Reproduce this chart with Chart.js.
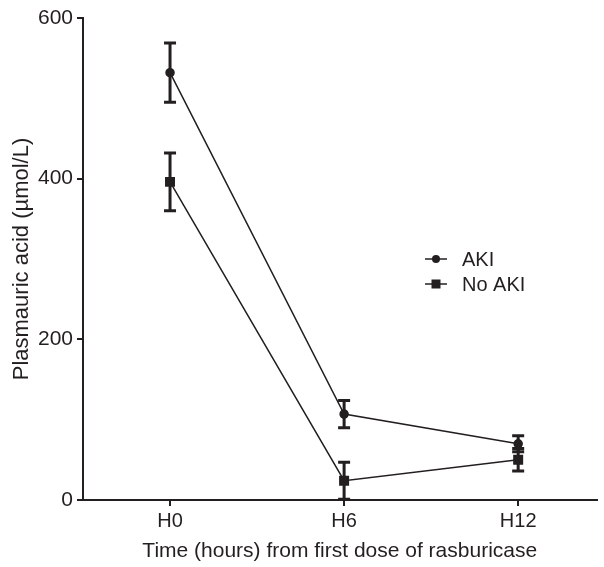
<!DOCTYPE html>
<html>
<head>
<meta charset="utf-8">
<script src="https://cdn.jsdelivr.net/npm/chart.js@4/dist/chart.umd.min.js"></script>
<style>
  html, body { margin: 0; padding: 0; background: #fff; }
  #wrap { width: 604px; height: 567px; }
</style>
</head>
<body>
<div id="wrap"><canvas id="grafico" width="604" height="567"></canvas></div>
<script>
const categorias = ["H0", "H6", "H12"];
const akiMedia = [532, 107, 70];
const akiError = [37, 17, 10];
const noAkiMedia = [396, 24, 50];
const noAkiError = [36, 23, 14];
const yTicks = [0, 200, 400, 600];

const tinta = "#231f20";
const fuente = "'Liberation Sans', Arial, sans-serif";

const puntos = (vals) => vals.map((v, i) => ({ x: i, y: v }));

// barras de error dibujadas con las escalas del grafico
const barrasError = {
  id: "barrasError",
  afterDatasetsDraw(chart) {
    const ctx = chart.ctx;
    const y = chart.scales.y;
    chart.data.datasets.forEach((ds, d) => {
      const meta = chart.getDatasetMeta(d);
      meta.data.forEach((p, i) => {
        const e = ds.errores[i];
        const v = ds.data[i].y;
        const top = y.getPixelForValue(v + e);
        const bot = y.getPixelForValue(Math.max(0, v - e));
        ctx.save();
        ctx.strokeStyle = tinta;
        ctx.lineWidth = 3;
        ctx.beginPath();
        ctx.moveTo(p.x, top);
        ctx.lineTo(p.x, bot);
        ctx.moveTo(p.x - 6, top);
        ctx.lineTo(p.x + 6, top);
        ctx.moveTo(p.x - 6, bot);
        ctx.lineTo(p.x + 6, bot);
        ctx.stroke();
        ctx.restore();
      });
    });
  },
};

// leyenda propia (linea con marcador)
const leyenda = {
  id: "leyenda",
  afterDraw(chart) {
    const ctx = chart.ctx;
    const x0 = 425, y0 = 259, paso = 25;
    chart.data.datasets.forEach((ds, d) => {
      const yy = y0 + d * paso;
      ctx.save();
      ctx.strokeStyle = tinta;
      ctx.fillStyle = tinta;
      ctx.lineWidth = 1.5;
      ctx.beginPath();
      ctx.moveTo(x0, yy);
      ctx.lineTo(x0 + 22, yy);
      ctx.stroke();
      if (ds.pointStyle === "rect") {
        ctx.fillRect(x0 + 11 - 4.5, yy - 4.5, 9, 9);
      } else {
        ctx.beginPath();
        ctx.arc(x0 + 11, yy, 4, 0, Math.PI * 2);
        ctx.fill();
      }
      ctx.font = "20px " + fuente;
      ctx.textBaseline = "middle";
      ctx.fillText(ds.label, x0 + 37, yy + 1);
      ctx.restore();
    });
  },
};

const grafico = () => {
  const lienzo = document.getElementById("grafico");

  let aki = {
    label: "AKI",
    data: puntos(akiMedia),
    errores: akiError,
    borderColor: tinta,
    backgroundColor: tinta,
    borderWidth: 1.5,
    pointStyle: "circle",
    pointRadius: 4,
    pointHoverRadius: 4,
  };
  let noAki = {
    label: "No AKI",
    data: puntos(noAkiMedia),
    errores: noAkiError,
    borderColor: tinta,
    backgroundColor: tinta,
    borderWidth: 1.5,
    pointStyle: "rect",
    pointRadius: 6,
    pointHoverRadius: 6,
  };

  new Chart(lienzo, {
    type: "line",
    data: { datasets: [aki, noAki] },
    plugins: [barrasError, leyenda],
    options: {
      responsive: false,
      animation: false,
      layout: { padding: { top: 18, right: 6, left: 0, bottom: 0 } },
      plugins: { legend: { display: false }, tooltip: { enabled: false } },
      scales: {
        x: {
          type: "linear",
          min: -0.5,
          max: 2.45,
          afterBuildTicks: (s) => {
            s.ticks = categorias.map((c, i) => ({ value: i }));
          },
          afterFit: (s) => { s.height = 67; },
          ticks: {
            callback: (v) => categorias[v],
            color: tinta,
            font: { family: fuente, size: 20 },
            padding: 3,
          },
          grid: { drawOnChartArea: false, color: tinta, lineWidth: 2, tickLength: 6 },
          border: { color: tinta, width: 2 },
          title: {
            display: true,
            text: "Time (hours) from first dose of rasburicase",
            color: tinta,
            font: { family: fuente, size: 21 },
            padding: { top: 0, bottom: 3 },
          },
        },
        y: {
          min: 0,
          max: 600,
          afterBuildTicks: (s) => {
            s.ticks = yTicks.map((v) => ({ value: v }));
          },
          afterFit: (s) => { s.width = 83; },
          ticks: {
            color: tinta,
            font: { family: fuente, size: 21 },
            padding: 4,
          },
          grid: { drawOnChartArea: false, color: tinta, lineWidth: 2, tickLength: 6 },
          border: { color: tinta, width: 2 },
          title: {
            display: true,
            text: "Plasmauric acid (\u00b5mol/L)",
            color: tinta,
            font: { family: fuente, size: 22 },
            padding: { top: 9, bottom: 0 },
          },
        },
      },
    },
  });
};

grafico();
</script>
</body>
</html>
